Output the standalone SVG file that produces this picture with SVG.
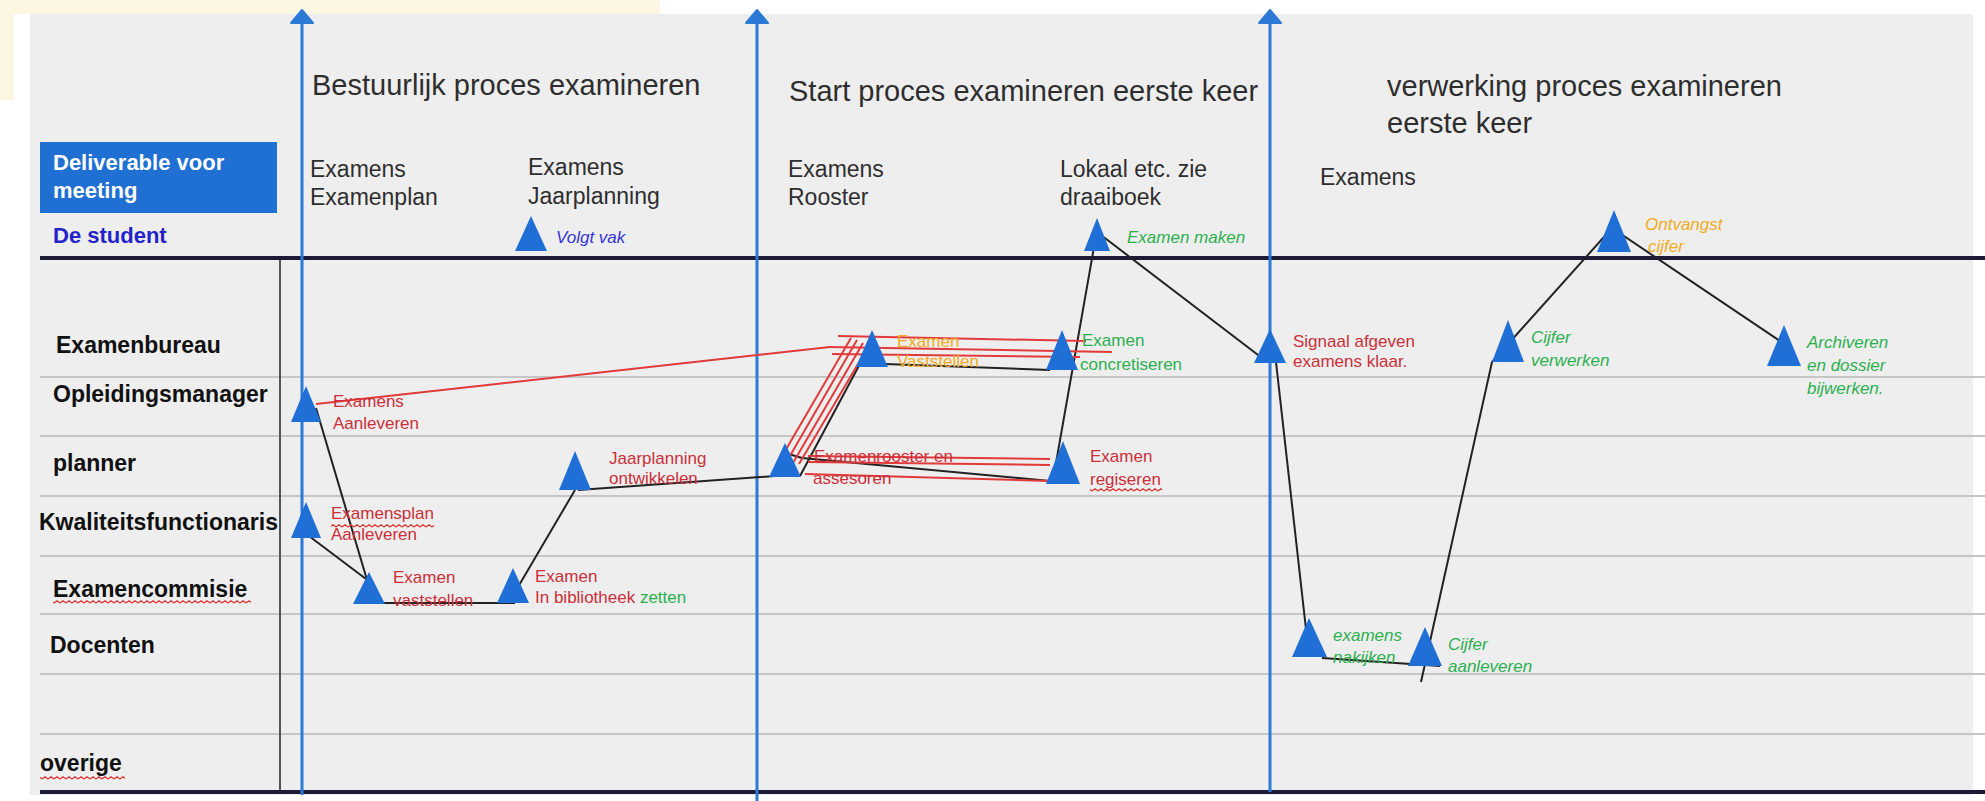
<svg xmlns="http://www.w3.org/2000/svg" width="1985" height="801" viewBox="0 0 1985 801">
<defs>
<style>
text{font-family:"Liberation Sans",Arial,sans-serif}
.title{font-size:29px;fill:#2e2e2e}
.hdr{font-size:23px;fill:#2e2e2e}
.lane{font-size:23px;font-weight:bold;fill:#111}
.lbl{font-size:17px}
.red{fill:#cc2f3a}
.grn{fill:#2bb04f}
.org{fill:#f2ab22}
.it{font-style:italic}
.tri{fill:#1f6fd6}
.conn{stroke:#222;stroke-width:2;fill:none}
.rconn{stroke:#e23a3a;stroke-width:2;fill:none}
.laneline{stroke:#c6c6c6;stroke-width:2}
.thick{stroke:#1c1c38;stroke-width:4}
.vblue{stroke:#2d79d6;stroke-width:3}
.ahead{fill:#2d79d6;stroke:#2d79d6;stroke-width:2;stroke-linejoin:round}
</style>
<pattern id="wave" width="6" height="4" patternUnits="userSpaceOnUse"><path d="M0 3 L3 0.8 L6 3" stroke="#e03030" stroke-width="1.2" fill="none"/></pattern>
</defs>

<!-- background -->
<rect x="0" y="0" width="1985" height="801" fill="#ffffff"/>
<rect x="0" y="0" width="660" height="14" fill="#fbf7e2"/>
<rect x="0" y="0" width="14" height="100" fill="#fbf7e2"/>
<rect x="30" y="14" width="1943" height="781" fill="#eeeeee"/>

<!-- grid -->
<g id="grid">
<line class="laneline" x1="40" y1="377" x2="1985" y2="377"/>
<line class="laneline" x1="40" y1="436" x2="1985" y2="436"/>
<line class="laneline" x1="40" y1="496" x2="1985" y2="496"/>
<line class="laneline" x1="40" y1="556" x2="1985" y2="556"/>
<line class="laneline" x1="40" y1="614" x2="1985" y2="614"/>
<line class="laneline" x1="40" y1="674" x2="1985" y2="674"/>
<line class="laneline" x1="40" y1="734" x2="1985" y2="734"/>
<line x1="280" y1="258" x2="280" y2="792" stroke="#555" stroke-width="2"/>
<line class="thick" x1="40" y1="258" x2="1985" y2="258"/>
<line class="thick" x1="40" y1="792" x2="1985" y2="792"/>
</g>

<!-- phase arrows -->
<g id="phases">
<line class="vblue" x1="302" y1="22" x2="302" y2="795"/>
<polygon class="ahead" points="302,10 313,23 291,23"/>
<line class="vblue" x1="757" y1="22" x2="757" y2="801"/>
<polygon class="ahead" points="757,10 768,23 746,23"/>
<line class="vblue" x1="1270" y1="22" x2="1270" y2="792"/>
<polygon class="ahead" points="1270,10 1281,23 1259,23"/>
</g>

<!-- titles and headers -->
<g id="headers">
<text class="title" x="312" y="95">Bestuurlijk proces examineren</text>
<text class="title" x="789" y="101">Start proces examineren eerste keer</text>
<text class="title" x="1387" y="96">verwerking proces examineren</text>
<text class="title" x="1387" y="133">eerste keer</text>
<text class="hdr" x="310" y="177">Examens</text>
<text class="hdr" x="310" y="205">Examenplan</text>
<text class="hdr" x="528" y="175">Examens</text>
<text class="hdr" x="528" y="204">Jaarplanning</text>
<text class="hdr" x="788" y="177">Examens</text>
<text class="hdr" x="788" y="205">Rooster</text>
<text class="hdr" x="1060" y="177">Lokaal etc. zie</text>
<text class="hdr" x="1060" y="205">draaiboek</text>
<text class="hdr" x="1320" y="185">Examens</text>
</g>

<!-- lane labels -->
<g id="lanes">
<rect x="40" y="142" width="237" height="71" fill="#1f70d2"/>
<text x="53" y="170" font-size="22" font-weight="bold" fill="#ffffff">Deliverable voor</text>
<text x="53" y="198" font-size="22" font-weight="bold" fill="#ffffff">meeting</text>
<text x="53" y="243" font-size="22" font-weight="bold" fill="#2323c8">De student</text>
<text class="lane" x="56" y="353">Examenbureau</text>
<text class="lane" x="53" y="402">Opleidingsmanager</text>
<text class="lane" x="53" y="471">planner</text>
<text class="lane" x="39" y="530">Kwaliteitsfunctionaris</text>
<text class="lane" x="53" y="597">Examencommisie</text>
<rect x="53" y="600" width="198" height="4" fill="url(#wave)"/>
<text class="lane" x="50" y="653">Docenten</text>
<text class="lane" x="40" y="771">overige</text>
<rect x="40" y="776" width="85" height="4" fill="url(#wave)"/>
</g>

<!-- connectors -->
<g id="connectors">
<path class="conn" d="M316 408 L370 590"/>
<path class="conn" d="M305 533 L370 582"/>
<path class="conn" d="M355 603 L515 603"/>
<path class="conn" d="M518 587 L575 490"/>
<path class="conn" d="M578 490 L775 476"/>
<path class="conn" d="M800 476 L862 360"/>
<path class="conn" d="M782 452 L802 458"/>
<path class="conn" d="M885 364 L1050 370"/>
<path class="conn" d="M802 458 L1050 481"/>
<path class="conn" d="M1053 480 L1097 230"/>
<path class="conn" d="M1097 232 L1262 358"/>
<path class="conn" d="M1276 362 L1309 656"/>
<path class="conn" d="M1322 658 L1440 666"/>
<path class="conn" d="M1421 682 L1492 362"/>
<path class="conn" d="M1492 362 L1612 228"/>
<path class="conn" d="M1612 228 L1786 345"/>
<path class="rconn" d="M316 404 L830 347"/>
<path class="rconn" d="M838 336 L1086 341"/>
<path class="rconn" d="M828 347 L1112 352"/>
<path class="rconn" d="M832 354 L1080 357"/>
<path class="rconn" d="M781 458 L851 338"/>
<path class="rconn" d="M787 461 L857 340"/>
<path class="rconn" d="M793 463 L863 343"/>
<path class="rconn" d="M799 464 L868 347"/>
<path class="rconn" d="M808 456 L1050 459"/>
<path class="rconn" d="M808 462 L1050 465"/>
<path class="rconn" d="M805 474 L1050 481"/>
</g>

<!-- nodes -->
<g id="n-volgt-vak">
<polygon class="tri" points="531,216 547,251 515,251"/>
<text class="lbl it" x="556" y="243" fill="#3434d8">Volgt vak</text>
</g>
<g id="n-examens-aanleveren">
<polygon class="tri" points="306,386 321,422 291,422"/>
<text class="lbl red" x="333" y="407">Examens</text>
<text class="lbl red" x="333" y="429">Aanleveren</text>
</g>
<g id="n-examensplan-aanleveren">
<polygon class="tri" points="306,502 321,538 291,538"/>
<text class="lbl red" x="331" y="519">Examensplan</text>
<rect x="331" y="524" width="103" height="4" fill="url(#wave)"/>
<text class="lbl red" x="331" y="540">Aanleveren</text>
</g>
<g id="n-examen-vaststellen">
<polygon class="tri" points="369,572 385,604 353,604"/>
<text class="lbl red" x="393" y="583">Examen</text>
<text class="lbl red" x="393" y="606">vaststellen</text>
</g>
<g id="n-examen-bibliotheek">
<polygon class="tri" points="513,568 529,603 497,603"/>
<text class="lbl red" x="535" y="582">Examen</text>
<text class="lbl" x="535" y="603"><tspan class="red">In bibliotheek </tspan><tspan class="grn">zetten</tspan></text>
</g>
<g id="n-jaarplanning">
<polygon class="tri" points="575,451 591,490 559,490"/>
<text class="lbl red" x="609" y="464">Jaarplanning</text>
<text class="lbl red" x="609" y="484">ontwikkelen</text>
</g>
<g id="n-examenrooster">
<polygon class="tri" points="785,443 801,477 769,477"/>
<text class="lbl red" x="814" y="462">Examenrooster en</text>
<text class="lbl red" x="813" y="484">assesoren</text>
</g>
<g id="n-examen-vaststellen-bureau">
<polygon class="tri" points="872,330 888,367 856,367"/>
<text class="lbl org" x="897" y="347">Examen</text>
<text class="lbl org" x="897" y="367">Vaststellen</text>
</g>
<g id="n-examen-concretiseren">
<polygon class="tri" points="1062,330 1078,370 1046,370"/>
<text class="lbl grn" x="1082" y="346">Examen</text>
<text class="lbl grn" x="1080" y="370">concretiseren</text>
</g>
<g id="n-examen-regiseren">
<polygon class="tri" points="1063,441 1080,484 1046,484"/>
<text class="lbl red" x="1090" y="462">Examen</text>
<text class="lbl red" x="1090" y="485">regiseren</text>
<rect x="1090" y="488" width="72" height="4" fill="url(#wave)"/>
</g>
<g id="n-examen-maken">
<polygon class="tri" points="1097,218 1110,251 1084,251"/>
<text class="lbl grn it" x="1127" y="243">Examen maken</text>
</g>
<g id="n-signaal">
<polygon class="tri" points="1270,329 1286,363 1254,363"/>
<text class="lbl red" x="1293" y="347">Signaal afgeven</text>
<text class="lbl red" x="1293" y="367">examens klaar.</text>
</g>
<g id="n-ontvangst-cijfer">
<polygon class="tri" points="1614,210 1631,252 1597,252"/>
<text class="lbl org it" x="1645" y="230">Ontvangst</text>
<text class="lbl org it" x="1648" y="252">cijfer</text>
</g>
<g id="n-cijfer-verwerken">
<polygon class="tri" points="1508,320 1524,362 1492,362"/>
<text class="lbl grn it" x="1531" y="343">Cijfer</text>
<text class="lbl grn it" x="1531" y="366">verwerken</text>
</g>
<g id="n-archiveren">
<polygon class="tri" points="1784,325 1801,366 1767,366"/>
<text class="lbl grn it" x="1807" y="348">Archiveren</text>
<text class="lbl grn it" x="1807" y="371">en dossier</text>
<text class="lbl grn it" x="1807" y="394">bijwerken.</text>
</g>
<g id="n-examens-nakijken">
<polygon class="tri" points="1309,618 1327,657 1292,657"/>
<text class="lbl grn it" x="1333" y="641">examens</text>
<text class="lbl grn it" x="1333" y="663">nakijken</text>
</g>
<g id="n-cijfer-aanleveren">
<polygon class="tri" points="1425,627 1442,666 1408,666"/>
<text class="lbl grn it" x="1448" y="650">Cijfer</text>
<text class="lbl grn it" x="1448" y="672">aanleveren</text>
</g>
</svg>
